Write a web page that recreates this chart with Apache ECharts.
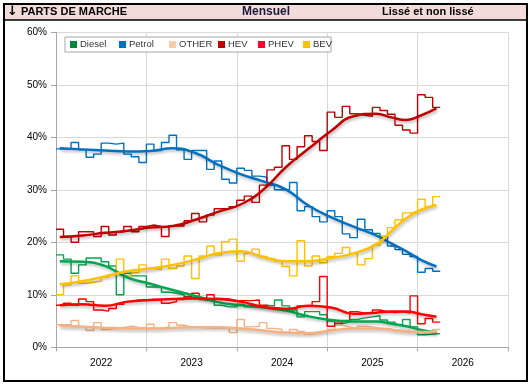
<!DOCTYPE html>
<html><head><meta charset="utf-8">
<script src="https://cdn.jsdelivr.net/npm/echarts@6/dist/echarts.min.js"></script>
<style>html,body{margin:0;padding:0;background:#fff}#c{width:532px;height:388px}</style>
</head><body><div id="c"></div>
<script>
// ---- data (monthly market shares, %, Jan 2022 .. Mar 2026) ----
const years = ['2022', '2023', '2024', '2025', '2026'];
const seriesNames = ['Diesel', 'Petrol', 'OTHER', 'HEV', 'PHEV', 'BEV'];

const diesel = [17.6,16.8,14.1,15.7,17.0,17.0,16.3,15.5,10.0,14.1,13.6,13.6,11.5,11.5,10.5,10.3,10.0,9.6,9.3,9.0,9.0,8.0,7.7,7.7,8.2,7.7,7.7,8.0,7.9,9.0,7.9,7.1,5.8,6.8,6.8,6.2,5.0,4.5,4.8,5.3,5.6,5.8,6.0,5.2,4.8,4.3,5.3,3.9,2.4,2.5,2.6];
const petrol = [37.8,37.8,39.0,37.6,36.2,36.8,38.9,38.7,38.9,36.8,36.3,35.2,38.7,37.5,39.0,40.4,37.6,35.8,37.5,37.5,33.9,35.5,32.0,31.3,34.1,33.7,32.6,32.4,30.9,30.0,30.0,31.4,26.0,26.8,24.9,23.9,26.0,24.9,21.6,20.9,24.4,22.4,21.7,21.1,19.3,18.6,17.7,17.3,14.3,15.0,14.5];
const other = [4.3,4.3,5.1,3.9,3.2,4.7,3.4,3.6,3.8,4.0,3.8,3.7,4.4,3.6,3.9,4.7,4.2,3.9,3.8,3.7,3.6,3.6,3.6,2.8,5.3,3.9,4.0,4.7,3.6,3.4,2.8,3.4,3.0,2.5,2.7,3.0,3.4,4.2,3.9,3.6,4.0,3.9,3.6,3.6,3.3,3.2,3.0,2.8,2.8,3.0,3.4];
const hev = [22.5,21.1,20.0,22.0,22.0,21.1,23.0,21.4,22.0,23.0,22.0,23.0,23.3,23.0,21.1,23.1,23.1,24.1,25.5,23.9,25.2,26.4,26.4,26.8,28.0,28.8,27.6,30.9,33.8,34.3,38.4,35.8,38.2,40.3,39.2,37.5,44.8,43.8,45.9,44.5,44.2,44.0,45.7,45.1,44.4,42.3,41.4,40.8,48.1,47.6,45.7];
const phev = [8.0,8.4,8.0,9.2,8.7,7.1,6.9,7.4,8.2,8.7,9.0,9.0,9.1,9.1,8.4,8.7,9.1,9.6,10.3,9.1,10.0,9.3,9.2,8.9,8.9,8.9,9.0,8.0,7.6,7.4,7.4,7.4,7.9,7.9,8.7,13.5,4.0,4.6,5.1,6.8,6.5,6.6,7.1,6.8,6.6,6.8,6.5,9.8,4.5,5.5,4.8];
const bev = [10.0,11.9,13.6,12.2,12.4,12.6,13.4,13.8,16.8,13.6,14.2,15.7,15.0,14.8,16.8,15.0,15.5,17.4,13.1,17.4,19.3,17.6,20.1,20.6,16.4,17.9,18.7,17.3,16.9,16.5,15.4,13.6,20.3,15.5,17.4,16.1,17.3,17.9,19.0,17.9,15.7,16.9,19.5,21.1,22.8,24.3,25.6,25.8,28.2,26.8,28.7];

// smoothed curves, read at these month indices
const smoothMonths = [0,3,6,9,12,15,18,21,24,27,30,33,36,39,42,44,46,48,50];
const dieselSmooth = [16.4,16.3,15.5,13.3,12.1,10.9,9.8,8.6,8.0,7.6,7.0,5.9,5.2,4.9,4.9,4.5,4.0,3.3,2.8];
const petrolSmooth = [37.9,37.7,37.5,37.3,37.4,37.9,37.0,34.8,33.0,31.6,30.1,27.0,24.8,23.0,21.3,19.8,18.3,16.6,15.4];
const otherSmooth  = [4.1,3.9,3.7,3.6,3.6,3.7,3.8,3.8,3.6,3.2,2.8,2.7,3.2,3.6,3.6,3.3,3.0,2.9,3.0];
const hevSmooth    = [21.0,21.3,21.8,22.2,22.8,23.1,24.3,25.8,27.2,30.0,34.3,37.8,41.2,44.0,44.5,43.8,43.3,44.2,45.5];
const phevSmooth   = [8.0,8.2,7.9,8.7,9.0,9.2,9.3,9.2,8.7,7.7,7.3,7.9,7.6,6.4,6.6,6.8,6.8,6.3,5.8];
const bevSmooth    = [12.0,12.6,13.5,14.5,15.0,15.7,16.7,17.9,18.3,17.2,16.4,16.4,17.0,17.9,19.6,22.1,24.6,26.2,27.1];

const yTicks = [0,10,20,30,40,50,60];

// ---- styling ----
const lineColors   = ['#00A650','#0070C0','#F4B183','#C00000','#FF0000','#FFC000'];
const legendColors = ['#00873A','#0070C0','#F8CBAD','#C00000','#FF0030','#FFC000'];
const legendLeft   = [70,119,169,218,258,303];
const monthly = [diesel, petrol, other, hev, phev, bev];
const smoothed = [dieselSmooth, petrolSmooth, otherSmooth, hevSmooth, phevSmooth, bevSmooth];

function stepData(vals) {
  const d = vals.map((v, i) => [i, v]);
  d.push([vals.length, vals[vals.length - 1]]);
  return d;
}
function smoothData(vals) {
  return smoothMonths.map((m, i) => [m + 0.5, vals[i]]);
}

const series = [];
seriesNames.forEach((n, k) => {
  series.push({
    name: n, type: 'line', xAxisIndex: 0, step: 'end', symbol: 'none',
    data: stepData(monthly[k]), z: 2,
    itemStyle: { color: lineColors[k] },
    lineStyle: { width: 1.4, color: lineColors[k] }
  });
});
seriesNames.forEach((n, k) => {
  series.push({
    name: n, type: 'line', xAxisIndex: 0, smooth: 0.5, symbol: 'none',
    data: smoothData(smoothed[k]), z: 3,
    itemStyle: { color: lineColors[k] },
    lineStyle: { width: 2.5, color: lineColors[k], shadowColor: 'rgba(0,0,0,0.28)', shadowBlur: 3, shadowOffsetY: 2, shadowOffsetX: 1 }
  });
});

const legends = seriesNames.map((n, k) => ({
  data: [{ name: n, itemStyle: { color: legendColors[k] } }],
  left: legendLeft[k], top: 38.5, padding: 0, itemWidth: 7, itemHeight: 7, itemGap: 0,
  icon: 'rect', z: 20, selectedMode: false,
  textStyle: { fontSize: 9.5, color: '#333', fontFamily: 'Liberation Sans, Arial, sans-serif', padding: [0, 0, 0, -2], lineHeight: 12 }
}));

const chart = echarts.init(document.getElementById('c'), null, { renderer: 'canvas' });
chart.setOption({
  animation: false,
  backgroundColor: '#fff',
  textStyle: { fontFamily: 'Liberation Sans, Arial, sans-serif' },
  grid: { left: 56, right: 24, top: 32.3, bottom: 40.7, containLabel: false },
  legend: legends,
  xAxis: [
    { type: 'value', min: 0, max: 60, interval: 12, position: 'bottom',
      axisLine: { show: true, lineStyle: { color: '#A6A6A6', width: 1 } },
      axisTick: { show: true, length: 4, lineStyle: { color: '#A6A6A6' } },
      axisLabel: { show: false },
      splitLine: { show: true, lineStyle: { color: '#D9D9D9', width: 1 } } },
    { type: 'category', data: years, position: 'bottom', boundaryGap: true,
      axisLine: { show: false }, axisTick: { show: false }, splitLine: { show: false },
      axisLabel: { margin: 11, fontSize: 10, color: '#000' } }
  ],
  yAxis: {
    type: 'value', min: yTicks[0], max: yTicks[yTicks.length - 1], interval: 10,
    axisLine: { show: true, lineStyle: { color: '#A6A6A6', width: 1 } },
    axisTick: { show: true, length: 5, lineStyle: { color: '#A6A6A6' } },
    axisLabel: { formatter: '{value}%', fontSize: 10, color: '#000', margin: 9 },
    splitLine: { show: true, lineStyle: { color: '#D9D9D9', width: 1 } }
  },
  graphic: [
    { type: 'rect', z: 1, shape: { x: 4, y: 4, width: 523, height: 16 }, style: { fill: '#F2DCDB', stroke: null } },
    { type: 'line', z: 30, shape: { x1: 4, y1: 20, x2: 527, y2: 20 }, style: { stroke: '#000', lineWidth: 1.5 } },
    { type: 'rect', z: 30, shape: { x: 4, y: 4, width: 523, height: 377 }, style: { fill: null, stroke: '#000', lineWidth: 2 } },
    { type: 'text', z: 31, left: 7, top: 5, style: {
        text: '{a|↓} PARTS DE MARCHE', font: 'bold 11px "Liberation Sans", Arial, sans-serif', fill: '#000',
        rich: { a: { font: 'bold 13px "DejaVu Sans", sans-serif', fill: '#000' } } } },
    { type: 'text', z: 31, left: 242, top: 6, style: { text: 'Mensuel', font: 'bold 12px "Liberation Sans", Arial, sans-serif', fill: '#1A1A3A' } },
    { type: 'text', z: 31, left: 382, top: 6, style: { text: 'Lissé et non lissé', font: 'bold 11px "Liberation Sans", Arial, sans-serif', fill: '#000' } },
    { type: 'rect', z: 10, shape: { x: 65, y: 37, width: 266, height: 15 }, style: { fill: '#fff', stroke: '#A6A6A6', lineWidth: 1 } }
  ],
  series: series
});
</script></body></html>
